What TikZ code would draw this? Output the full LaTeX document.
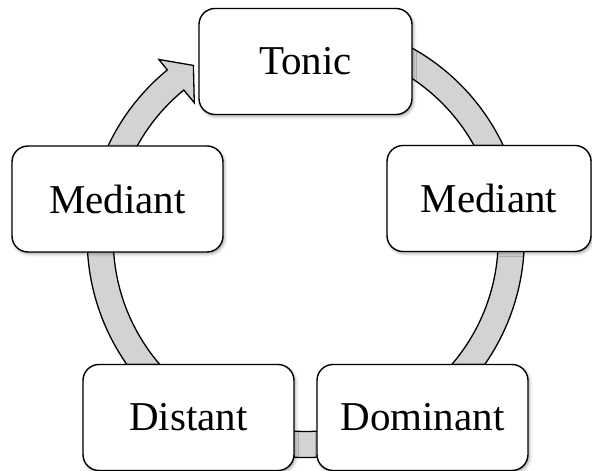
\documentclass[tikz,border=0pt]{standalone}
\usepackage{fontspec}
\setmainfont{Liberation Serif}
\usetikzlibrary{calc,shadows.blur}
\definecolor{bandgray}{RGB}{211,211,211}

\begin{document}
\begin{tikzpicture}[x=1pt,y=1pt,
    stage/.style={draw=black, line width=1.4pt, fill=white, rounded corners=16pt,
      minimum width=211pt, minimum height=106pt, inner sep=0pt,
      font=\fontsize{41}{49}\selectfont,
      blur shadow={shadow xshift=1.5pt, shadow yshift=-2pt, shadow blur radius=3pt, shadow opacity=35}},
    band/.style={draw=black, line width=1.3pt, fill=bandgray, line join=miter}]
  \useasboundingbox (0,0) rectangle (592,471);

  % centre of the ring
  \coordinate (ctr) at (305.75,232);

  % gray ring with its arrow head, running clockwise
  \draw[band] ($(ctr)+(70:218.5pt)$) arc[start angle=70, end angle=-230.7, radius=218.5pt]
    -- ($(ctr)+(129.3:232pt)$)
    -- ($(ctr)+(129.3:205.5pt)+(39.3:23pt)$)
    -- ($(ctr)+(129.3:176pt)$)
    -- ($(ctr)+(129.3:192.5pt)$)
    arc[start angle=-230.7, end angle=70, radius=192.5pt] -- cycle;

  % add the boxes
  \node[stage, minimum width=213pt] (tonic) at (305.5,409.5) {Tonic};
  \node[stage, minimum width=204pt] (medright) at (489,272.5) {Mediant};
  \node[stage] (dominant) at (422.5,53.5) {Dominant};
  \node[stage] (distant) at (188.5,53.5) {Distant};
  \node[stage] (medleft) at (117.5,272) {Mediant};
\end{tikzpicture}
\end{document}
